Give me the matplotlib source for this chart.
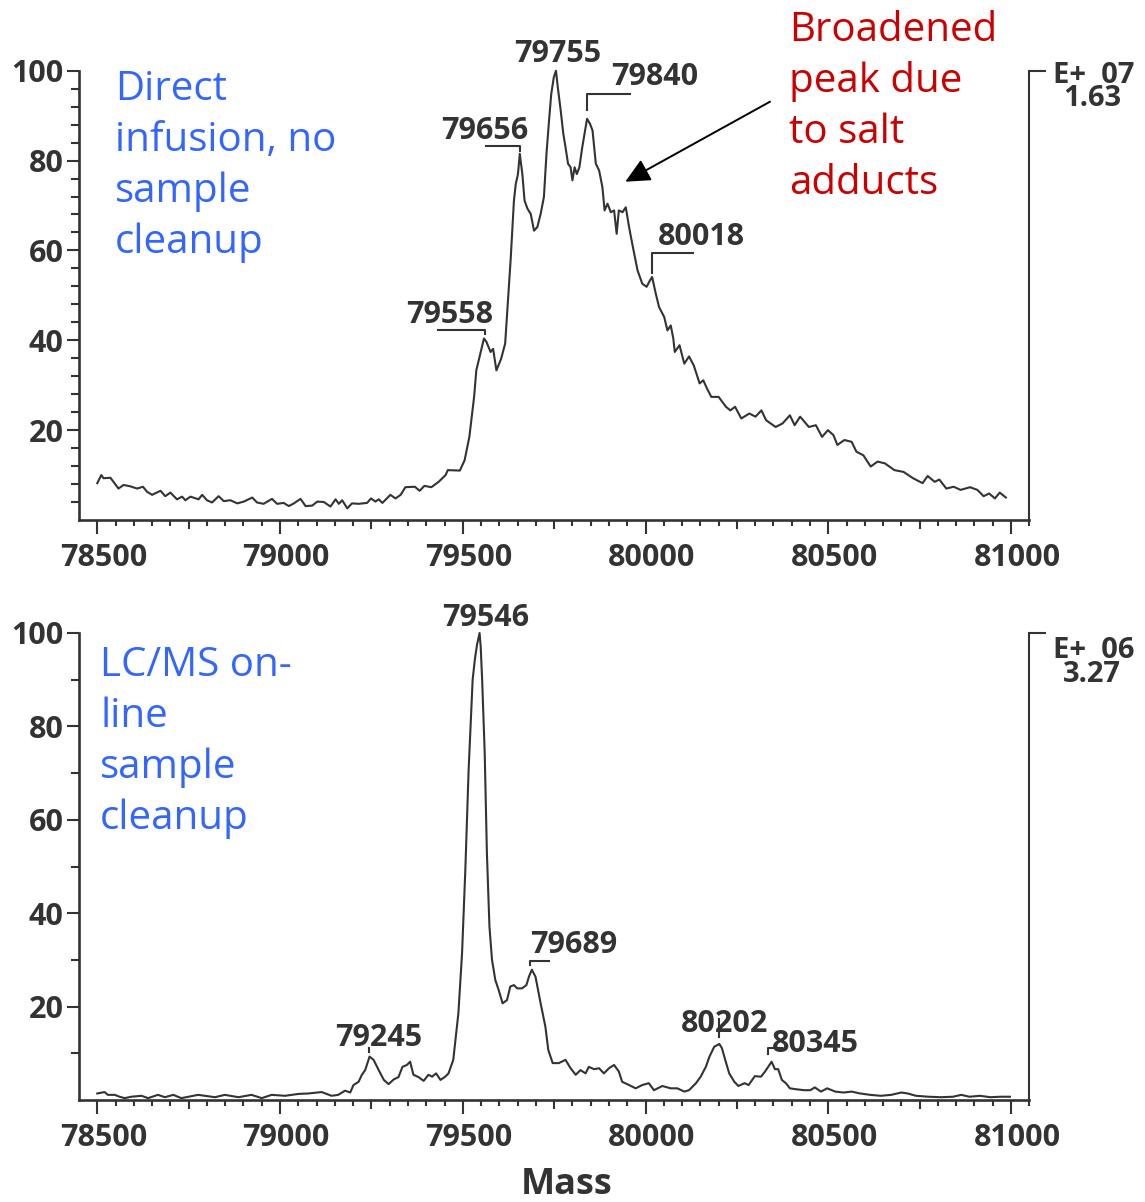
import numpy as np
import matplotlib
matplotlib.use("Agg")
import matplotlib.pyplot as plt
from matplotlib.ticker import FixedLocator, NullFormatter
from matplotlib.transforms import ScaledTranslation, IdentityTransform

plt.rcParams['font.family'] = ['Open Sans', 'DejaVu Sans']

INK = '#333333'
BLUE = '#3366ff'
RED = '#cc0000'
NUM_SIZE = 22

# Direct infusion spectrum, relative intensity (full scale 1.63E+07)
direct_mass = [
    78500, 78511, 78517, 78536, 78558, 78572, 78590, 78609, 78625, 78636,
    78650, 78673, 78686, 78700, 78718, 78732, 78741, 78755, 78777, 78787,
    78800, 78814, 78832, 78846, 78864, 78883, 78901, 78924, 78937, 78955,
    78978, 78992, 79010, 79024, 79038, 79056, 79070, 79088, 79102, 79120,
    79138, 79152, 79161, 79170, 79184, 79197, 79215, 79238, 79249, 79261,
    79270, 79280, 79302, 79316, 79330, 79343, 79369, 79382, 79395, 79414,
    79434, 79453, 79459, 79492, 79505, 79518, 79531, 79537, 79558, 79565,
    79576, 79583, 79592, 79605, 79616, 79622, 79631, 79640, 79645, 79651,
    79656, 79663, 79669, 79677, 79686, 79695, 79704, 79713, 79722, 79729,
    79736, 79742, 79749, 79755, 79760, 79768, 79775, 79781, 79788, 79795,
    79800, 79806, 79812, 79819, 79827, 79836, 79840, 79848, 79855, 79864,
    79873, 79882, 79888, 79896, 79905, 79914, 79921, 79927, 79937, 79946,
    79955, 79961, 79969, 79978, 79991, 80003, 80012, 80018, 80028, 80037,
    80051, 80060, 80069, 80076, 80080, 80093, 80106, 80119, 80132, 80148,
    80158, 80168, 80180, 80200, 80220, 80232, 80245, 80262, 80284, 80301,
    80317, 80330, 80356, 80375, 80395, 80408, 80423, 80447, 80466, 80483,
    80499, 80514, 80525, 80544, 80564, 80577, 80596, 80616, 80635, 80655,
    80681, 80706, 80732, 80758, 80772, 80791, 80804, 80823, 80843, 80862,
    80888, 80908, 80925, 80940, 80956, 80969, 80986,
]
direct_int = [
    8.2, 10.0, 9.3, 9.4, 7.0, 7.8, 7.5, 7.0, 7.4, 6.3,
    5.6, 6.5, 5.3, 6.1, 4.6, 5.2, 4.4, 5.2, 4.6, 5.6,
    4.4, 3.9, 5.3, 4.2, 4.4, 3.7, 4.1, 5.0, 3.9, 3.6,
    4.7, 3.6, 3.8, 3.1, 3.7, 4.7, 3.1, 3.2, 4.1, 4.0,
    3.0, 4.6, 3.6, 4.4, 2.6, 3.7, 3.6, 3.8, 4.8, 4.1,
    4.6, 3.8, 5.6, 4.8, 5.6, 7.3, 7.4, 6.5, 7.6, 7.3,
    8.5, 10.0, 11.1, 11.0, 13.3, 18.5, 27.4, 33.3, 40.4, 39.6,
    37.4, 38.1, 33.3, 35.9, 39.3, 46.7, 58.0, 71.1, 74.8, 77.0,
    81.5, 77.0, 71.1, 69.3, 68.1, 64.4, 65.2, 68.1, 71.9, 81.5,
    88.9, 94.8, 98.5, 100.0, 96.3, 91.1, 86.0, 83.0, 79.3, 78.5,
    75.6, 78.5, 77.0, 78.5, 83.0, 87.4, 89.3, 88.2, 86.7, 79.3,
    77.8, 74.1, 68.9, 70.4, 68.5, 68.9, 63.7, 68.9, 68.5, 69.6,
    65.2, 62.6, 59.3, 55.6, 52.6, 51.9, 53.3, 54.1, 50.4, 47.4,
    45.2, 42.2, 43.3, 40.4, 37.4, 38.9, 34.8, 36.4, 34.4, 30.4,
    31.1, 29.3, 27.4, 27.4, 25.2, 24.4, 25.2, 22.6, 23.7, 23.0,
    24.4, 22.2, 20.7, 21.5, 23.3, 21.1, 23.0, 20.7, 21.1, 18.5,
    20.0, 18.9, 16.7, 17.8, 17.4, 15.2, 14.4, 11.9, 13.0, 12.6,
    11.1, 10.7, 9.3, 8.2, 9.8, 8.5, 9.0, 7.0, 7.4, 6.7,
    7.3, 6.7, 5.3, 5.9, 4.8, 6.1, 5.0,
]
direct_peaks = [79558, 79656, 79755, 79840, 80018]
direct_exp = "E+  07"
direct_full = "1.63"
direct_note = ["Direct", "infusion, no", "sample", "cleanup"]

# LC/MS on-line spectrum, relative intensity (full scale 3.27E+06)
lcms_mass = [
    78500, 78520, 78529, 78548, 78561, 78575, 78593, 78621, 78639, 78666,
    78685, 78708, 78730, 78776, 78822, 78849, 78886, 78922, 78950, 78977,
    79014, 79050, 79078, 79114, 79141, 79159, 79178, 79192, 79201, 79215,
    79224, 79233, 79245, 79256, 79270, 79284, 79297, 79311, 79324, 79335,
    79347, 79356, 79365, 79379, 79393, 79406, 79416, 79427, 79439, 79452,
    79461, 79474, 79488, 79498, 79507, 79516, 79527, 79533, 79539, 79546,
    79549, 79553, 79560, 79566, 79573, 79580, 79589, 79598, 79609, 79621,
    79630, 79640, 79649, 79662, 79674, 79681, 79689, 79699, 79713, 79726,
    79734, 79746, 79763, 79781, 79795, 79809, 79822, 79836, 79845, 79859,
    79873, 79886, 79900, 79914, 79927, 79936, 79955, 79973, 79991, 80009,
    80023, 80046, 80069, 80087, 80106, 80119, 80138, 80151, 80165, 80175,
    80188, 80202, 80209, 80218, 80229, 80243, 80254, 80271, 80282, 80299,
    80316, 80327, 80345, 80354, 80363, 80373, 80384, 80395, 80412, 80434,
    80451, 80463, 80480, 80497, 80519, 80542, 80564, 80587, 80615, 80644,
    80672, 80700, 80717, 80740, 80774, 80808, 80841, 80864, 80886, 80915,
    80943, 80971, 80997,
]
lcms_int = [
    1.4, 1.7, 1.1, 1.1, 0.7, 0.4, 0.7, 0.9, 0.4, 1.1,
    0.6, 1.1, 0.4, 1.1, 0.6, 1.1, 0.6, 1.1, 0.4, 1.1,
    0.9, 1.3, 1.4, 1.7, 0.9, 1.1, 2.0, 1.6, 3.2, 3.9,
    5.4, 6.4, 9.3, 8.6, 6.4, 4.3, 3.4, 4.4, 4.9, 7.1,
    7.5, 8.2, 5.4, 4.9, 4.1, 5.4, 5.0, 5.7, 4.3, 5.0,
    5.7, 8.6, 18.6, 31.4, 49.3, 70.7, 90.0, 94.3, 97.5, 100.0,
    97.1, 90.0, 74.3, 52.9, 37.1, 30.0, 25.7, 23.6, 20.7, 21.4,
    24.3, 24.6, 23.9, 23.9, 24.6, 26.4, 27.9, 26.4, 20.7, 15.7,
    10.7, 7.9, 7.9, 8.6, 6.8, 5.4, 6.4, 5.7, 7.1, 6.6,
    6.8, 5.7, 6.8, 7.5, 6.1, 3.9, 3.2, 2.5, 3.2, 3.6,
    2.1, 3.0, 2.5, 2.5, 1.8, 2.1, 3.6, 5.0, 7.1, 9.3,
    11.4, 12.0, 11.1, 8.6, 5.7, 3.9, 3.0, 3.6, 3.2, 5.1,
    5.0, 6.1, 8.2, 6.6, 6.6, 4.3, 3.6, 2.5, 2.3, 2.1,
    2.1, 2.7, 1.8, 2.5, 1.8, 1.6, 1.8, 1.4, 1.1, 0.9,
    1.1, 1.6, 1.4, 0.9, 0.7, 0.6, 0.7, 1.1, 0.7, 0.9,
    0.6, 0.7, 0.7,
]
lcms_peaks = [79245, 79546, 79689, 80202, 80345]
lcms_exp = "E+  06"
lcms_full = "3.27"
lcms_note = ["LC/MS on-", "line", "sample", "cleanup"]

salt_note = ["Broadened", "peak due", "to salt", "adducts"]
x_ticks = [78500, 79000, 79500, 80000, 80500, 81000]

# label placement: text offset and bracket polyline, pixels from the peak top
label_layout = {
    79558: ((-34, 15), [(-46, 8), (1, 8), (1, 4)]),
    79656: ((-35, 15), [(-34, 7.6), (0.7, 7.6), (0.7, 3.3)]),
    79755: ((1.5, 8.5), []),
    79840: ((67.6, 33.3), [(0, 8.3), (0, 25), (42.9, 25)]),
    80018: ((48.8, 32.4), [(0, 4), (0, 24), (40.6, 24)]),
    79245: ((9.4, 11), [(-1, 4.3), (-1, 9)]),
    79546: ((5.6, 7.3), []),
    79689: ((42.3, 16.5), [(-2, 4.8), (-2, 9.1), (17.3, 9.1)]),
    80202: ((5.2, 11.6), [(-0.8, 6.6), (-0.8, 24.9)]),
    80345: ((43.6, 9.9), [(-3.7, 7.9), (-3.7, 14.2), (10.7, 14.2)]),
}

W, H = 1145, 1202
fig = plt.figure(figsize=(W / 100, H / 100), dpi=100)


def fx(px):
    return px / W


def fy(py):
    return 1 - py / H


def note(lines, left, first_base, color, step=51):
    for i, line in enumerate(lines):
        fig.text(fx(left), fy(first_base + i * step), line, color=color,
                 fontsize=29, ha='left', va='baseline')


def draw_panel(ax, mass, inten, peaks, y_minor, exp_txt, full_txt, exp_y):
    ax.plot(mass, inten, color=INK, lw=1.5, clip_on=False,
            solid_joinstyle='round')
    ax.set_xlim(78450, 81050)
    ax.set_ylim(0, 100)

    for side in ['left', 'bottom', 'right']:
        ax.spines[side].set_color(INK)
    ax.spines['left'].set_linewidth(1.9)
    ax.spines['bottom'].set_linewidth(1.9)
    ax.spines['right'].set_linewidth(1.5)
    ax.spines['top'].set_visible(False)

    ax.xaxis.set_major_locator(FixedLocator(x_ticks))
    ax.xaxis.set_minor_locator(FixedLocator(
        [m for m in range(78550, 81051, 50) if m % 500 != 0]))
    ax.yaxis.set_major_locator(FixedLocator([20, 40, 60, 80, 100]))
    ax.yaxis.set_minor_locator(FixedLocator(
        [v for v in range(y_minor, 100, y_minor) if v % 20 != 0]))
    ax.yaxis.set_minor_formatter(NullFormatter())
    ax.xaxis.set_minor_formatter(NullFormatter())

    ax.tick_params(axis='x', which='major', direction='out', length=10,
                   width=1.5, color=INK, pad=6.5, labelsize=NUM_SIZE,
                   labelcolor=INK)
    ax.tick_params(axis='x', which='minor', direction='out', length=4.3,
                   width=1.5, color=INK)
    ax.tick_params(axis='y', which='major', direction='out', length=8.6,
                   width=1.5, color=INK, pad=2.5, labelsize=NUM_SIZE,
                   labelcolor=INK)
    ax.tick_params(axis='y', which='minor', direction='out', length=5.5,
                   width=1.5, color=INK)
    ax.tick_params(right=False, top=False)
    for lab in ax.get_xticklabels() + ax.get_yticklabels():
        lab.set_fontweight('bold')
    for lab in ax.get_xticklabels():
        lab.set_transform(lab.get_transform() +
                          ScaledTranslation(6 / 100, 0, fig.dpi_scale_trans))
    # medium ticks every 250
    for t, loc in zip(ax.xaxis.get_minor_ticks(), ax.xaxis.get_minorticklocs()):
        if loc % 250 == 0:
            t.tick1line.set_markersize(6.5)

    # hook on top of right spine
    wpx = ax.get_position().width * W
    ax.plot([1, 1 + 17 / wpx], [1, 1], transform=ax.transAxes,
            color=INK, lw=1.5, clip_on=False, solid_capstyle='butt')
    fig.text(fx(1053), fy(exp_y), exp_txt, fontsize=21, fontweight='bold',
             color=INK, ha='left', va='baseline')
    fig.text(fx(1063), fy(exp_y + 23.5), full_txt, fontsize=21,
             fontweight='bold', color=INK, ha='left', va='baseline')

    # peak labels
    for p in peaks:
        yv = np.interp(p, mass, inten)
        (tdx, tdy), path = label_layout[p]
        ax.annotate(str(p), xy=(p, yv), xytext=(tdx, tdy),
                    textcoords='offset pixels', ha='center', va='baseline',
                    fontsize=NUM_SIZE, fontweight='bold', color=INK)
        if path:
            x0, y0 = ax.transData.transform((p, yv))
            xs = [x0 + dx for dx, dy in path]
            ys = [y0 + dy for dx, dy in path]
            ax.plot(xs, ys, transform=IdentityTransform(), color=INK,
                    lw=1.5, clip_on=False)


ax_top = fig.add_axes([fx(79), fy(520), fx(1029.3) - fx(79),
                       fy(70.7) - fy(520)])
ax_bot = fig.add_axes([fx(79), fy(1100), fx(1029.3) - fx(79),
                       fy(633) - fy(1100)])

draw_panel(ax_top, direct_mass, direct_int, direct_peaks, 4,
           direct_exp, direct_full, 83)
draw_panel(ax_bot, lcms_mass, lcms_int, lcms_peaks, 10,
           lcms_exp, lcms_full, 658)

note(direct_note, 115, 100, BLUE)
note(lcms_note, 100, 676, BLUE)
note(salt_note, 789, 41, RED)

ax_top.annotate('', xy=(625.3, H - 181.7), xytext=(770, H - 101.7),
                xycoords='figure pixels', textcoords='figure pixels',
                arrowprops=dict(arrowstyle='-|>,head_length=0.75,head_width=0.36',
                                mutation_scale=20, lw=1.4, color='black',
                                shrinkA=0, shrinkB=0))

fig.text(fx(567), fy(1194), 'Mass', fontsize=26, fontweight='bold',
         color=INK, ha='center', va='baseline')

fig.savefig('out.png', dpi=100)
